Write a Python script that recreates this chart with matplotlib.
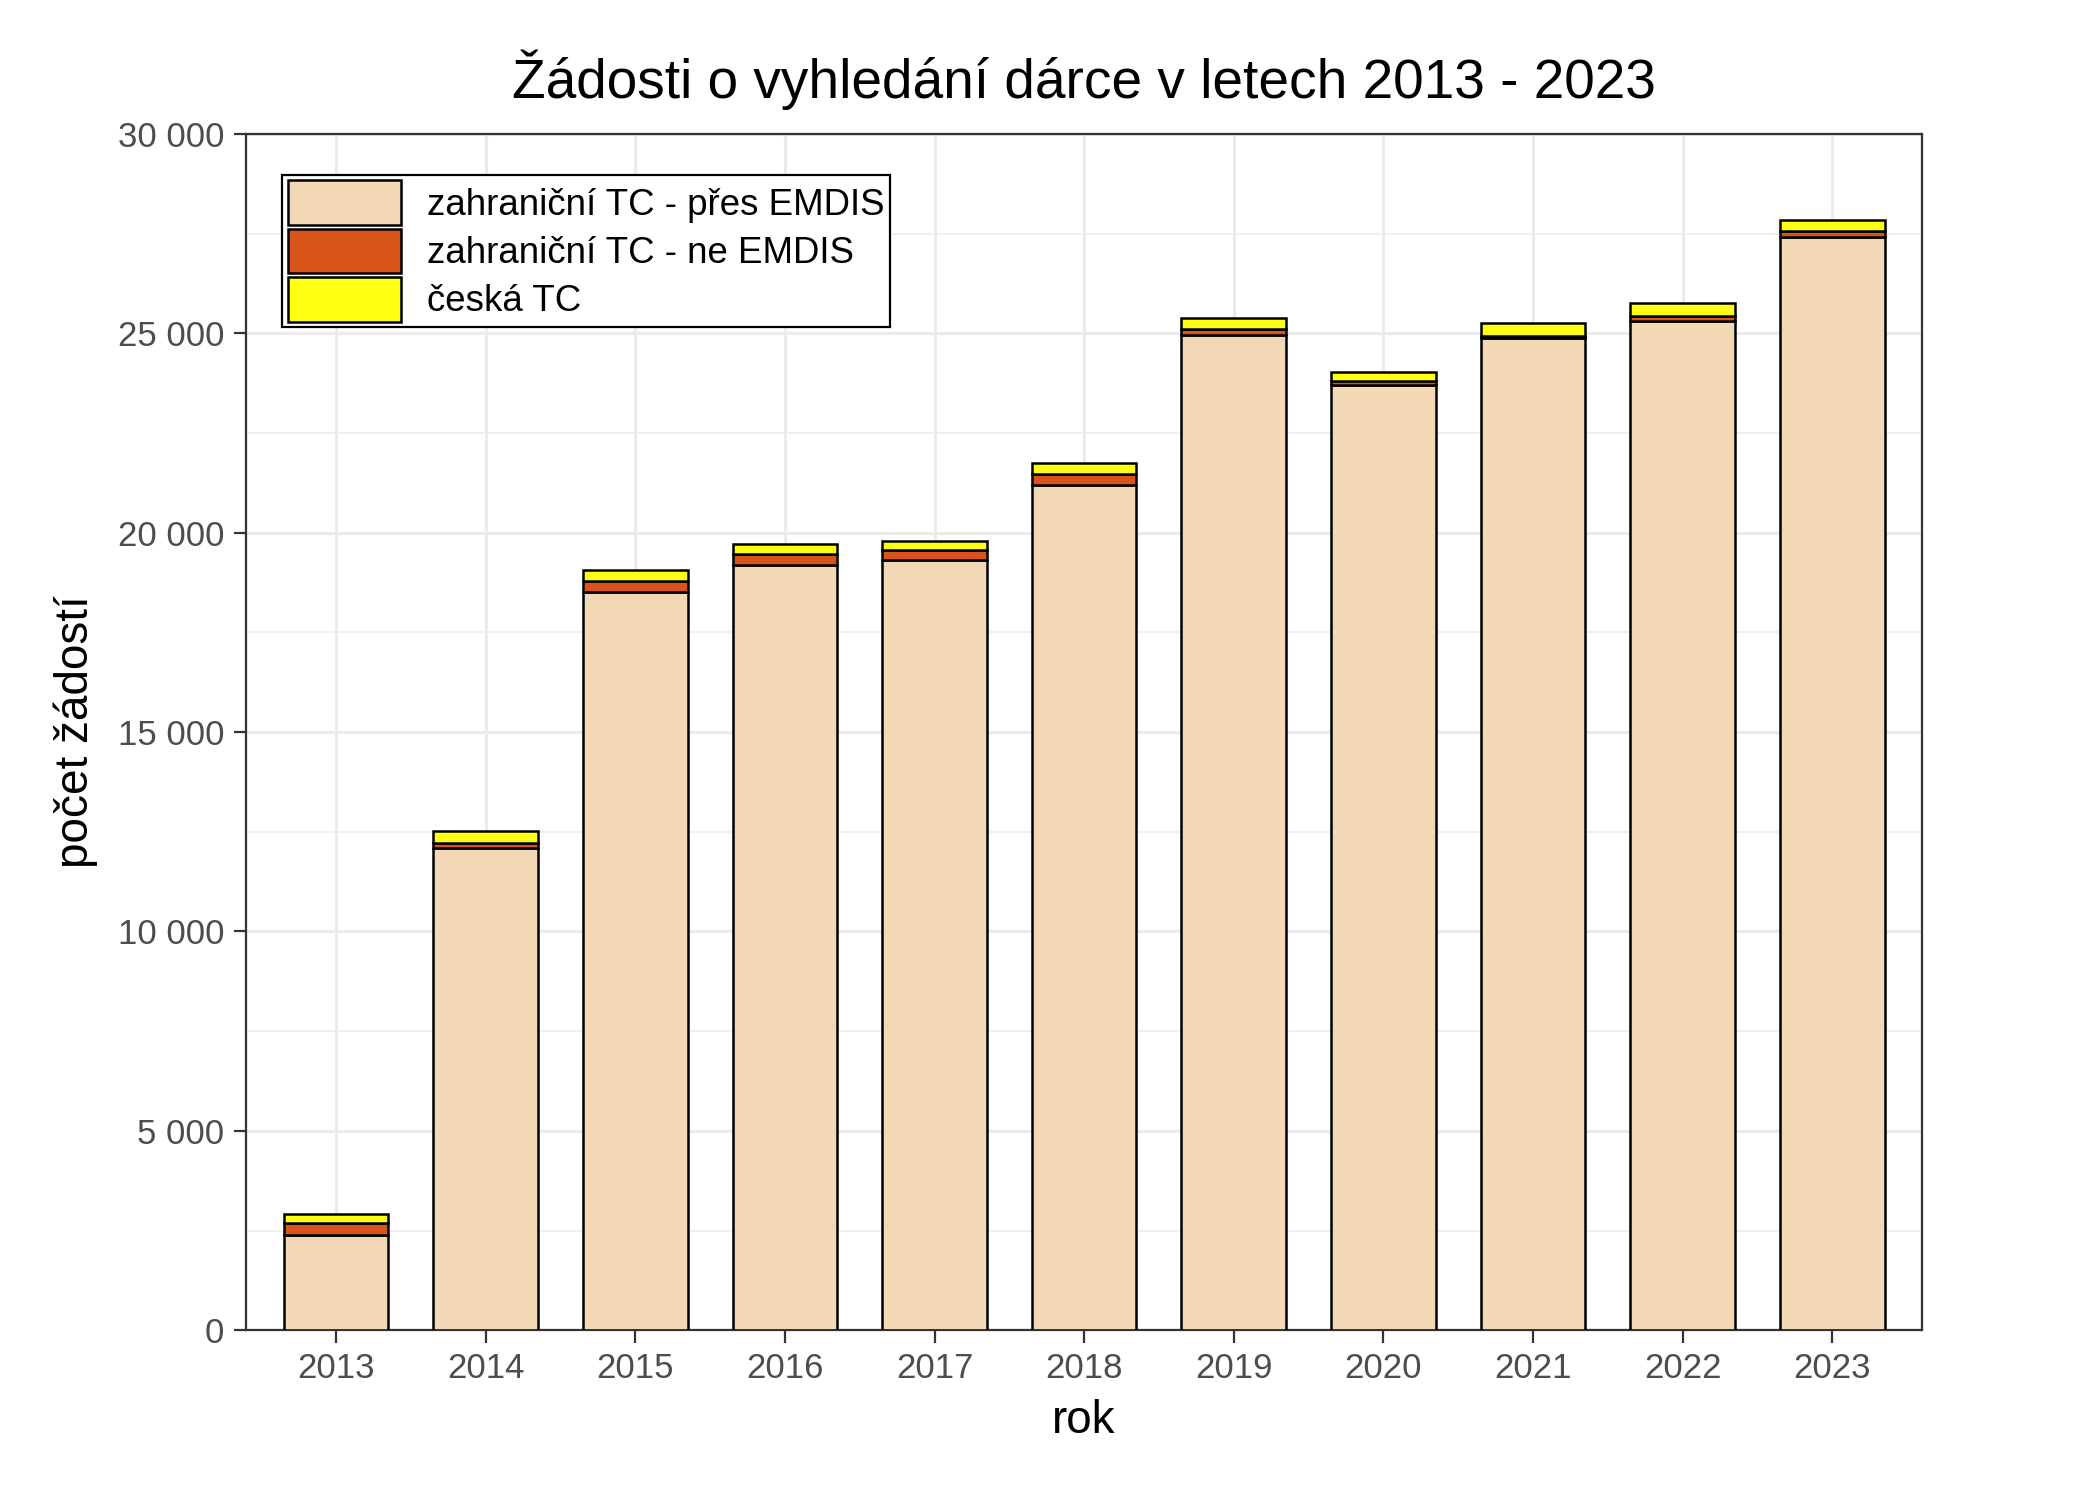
import matplotlib
matplotlib.use("Agg")
import matplotlib.pyplot as plt
from matplotlib.ticker import FuncFormatter, MultipleLocator
import numpy as np

plt.rcParams['font.family'] = ['Liberation Sans', 'DejaVu Sans']

years = ["2013", "2014", "2015", "2016", "2017", "2018", "2019", "2020", "2021", "2022", "2023"]
pres_emdis = [2400, 12090, 18510, 19180, 19310, 21200, 24970, 23700, 24880, 25310, 27420]
ne_emdis = [290, 140, 270, 275, 260, 270, 135, 100, 60, 135, 150]
ceska = [235, 280, 275, 275, 235, 285, 270, 235, 310, 315, 285]

labels = ["zahraniční TC - přes EMDIS", "zahraniční TC - ne EMDIS", "česká TC"]
colors = ["#F2D8B4", "#D9541A", "#FFFF14"]

fig = plt.figure(figsize=(10.5, 7.495), dpi=200)
ax = fig.add_axes([0.1173, 0.1126, 0.9152 - 0.1173, 0.9106 - 0.1126])

x = np.arange(len(years))
w = 0.7
b1 = np.array(pres_emdis)
b2 = b1 + np.array(ne_emdis)
ax.bar(x, pres_emdis, w, color=colors[0], edgecolor="black", linewidth=0.9, label=labels[0], zorder=3)
ax.bar(x, ne_emdis, w, bottom=b1, color=colors[1], edgecolor="black", linewidth=0.9, label=labels[1], zorder=3)
ax.bar(x, ceska, w, bottom=b2, color=colors[2], edgecolor="black", linewidth=0.9, label=labels[2], zorder=3)

ax.set_xlim(-0.6, len(years) - 0.4)
ax.set_ylim(0, 30000)
ax.set_xticks(x)
ax.set_xticklabels(years)
ax.yaxis.set_major_locator(MultipleLocator(5000))
ax.yaxis.set_minor_locator(MultipleLocator(2500))
ax.yaxis.set_major_formatter(FuncFormatter(lambda v, p: f"{int(v):,}".replace(",", " ")))

ax.grid(True, which="major", color="#EBEBEB", linewidth=1.1, zorder=0)
ax.grid(True, which="minor", axis="y", color="#EBEBEB", linewidth=0.55, zorder=0)
ax.set_axisbelow(True)
for s in ax.spines.values():
    s.set_color("#333333")
    s.set_linewidth(0.8)
ax.tick_params(axis="both", which="major", colors="#333333", labelcolor="#4D4D4D",
               labelsize=12.5, length=4.5, width=0.8)
ax.tick_params(axis="y", which="minor", length=0)

ax.set_xlabel("rok", fontsize=16.5, labelpad=5)
ax.set_ylabel("počet žádostí", fontsize=16.5, labelpad=7)
ax.set_title("Žádosti o vyhledání dárce v letech 2013 - 2023", fontsize=19.8, pad=13)

leg = ax.legend(loc="upper left", bbox_to_anchor=(0.0214, 0.966), fontsize=13.2,
                handlelength=3.1, handleheight=1.5, labelspacing=0.1,
                handletextpad=0.7, borderpad=0.15, borderaxespad=0,
                fancybox=False, framealpha=1, edgecolor="black")
leg.get_frame().set_linewidth(0.8)

fig.savefig("out.png", dpi=200)
